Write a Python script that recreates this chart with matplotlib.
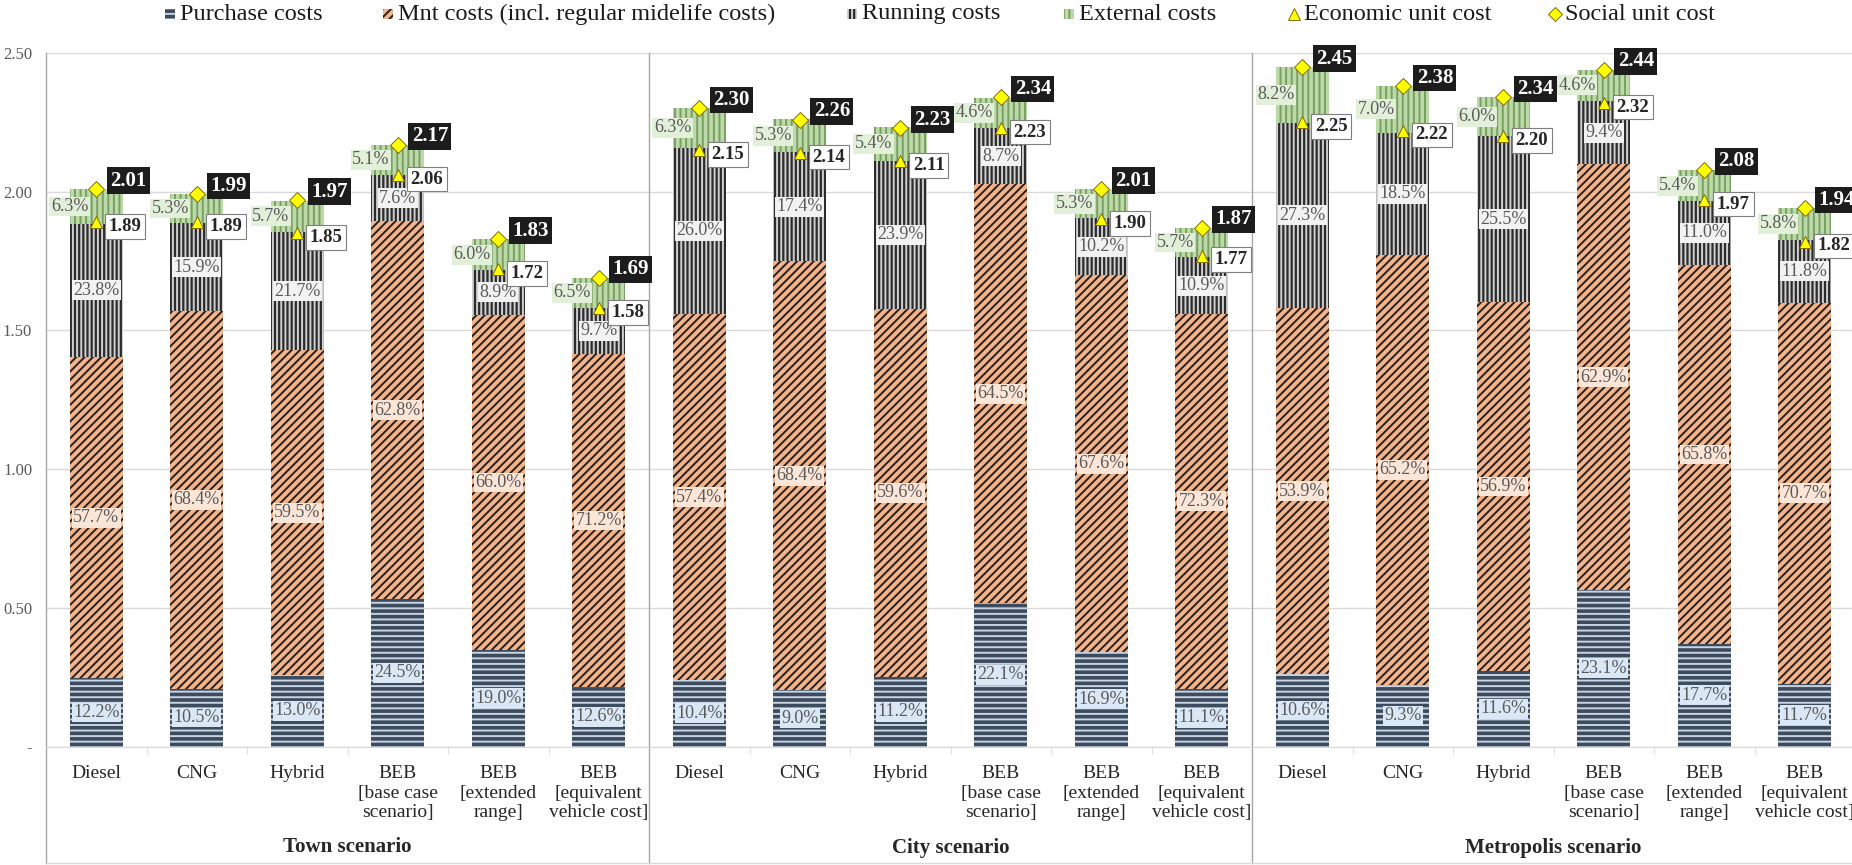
import matplotlib.pyplot as plt
import numpy as np
from matplotlib.patches import Rectangle
from matplotlib.lines import Line2D

plt.rcParams['font.family'] = ['Liberation Serif', 'DejaVu Serif']
plt.rcParams['hatch.linewidth'] = 1.4

# data
scenarios = ['Town scenario', 'City scenario', 'Metropolis scenario']
vehicles = ['Diesel', 'CNG', 'Hybrid', 'BEB\n[base case\nscenario]',
            'BEB\n[extended\nrange]', 'BEB\n[equivalent\nvehicle cost]']

social_cost = [2.01, 1.99, 1.97, 2.17, 1.83, 1.69,
               2.30, 2.26, 2.23, 2.34, 2.01, 1.87,
               2.45, 2.38, 2.34, 2.44, 2.08, 1.94]
economic_cost = [1.89, 1.89, 1.85, 2.06, 1.72, 1.58,
                 2.15, 2.14, 2.11, 2.23, 1.90, 1.77,
                 2.25, 2.22, 2.20, 2.32, 1.97, 1.82]
purchase_pct = [12.2, 10.5, 13.0, 24.5, 19.0, 12.6,
                10.4, 9.0, 11.2, 22.1, 16.9, 11.1,
                10.6, 9.3, 11.6, 23.1, 17.7, 11.7]
mnt_pct = [57.7, 68.4, 59.5, 62.8, 66.0, 71.2,
           57.4, 68.4, 59.6, 64.5, 67.6, 72.3,
           53.9, 65.2, 56.9, 62.9, 65.8, 70.7]
running_pct = [23.8, 15.9, 21.7, 7.6, 8.9, 9.7,
               26.0, 17.4, 23.9, 8.7, 10.2, 10.9,
               27.3, 18.5, 25.5, 9.4, 11.0, 11.8]
external_pct = [6.3, 5.3, 5.7, 5.1, 6.0, 6.5,
                6.3, 5.3, 5.4, 4.6, 5.3, 5.7,
                8.2, 7.0, 6.0, 4.6, 5.4, 5.8]

# name, values, face, hatch colour, hatch, label box colour
series = [
    ('Purchase costs', purchase_pct, '#3d4b5e', '#c9d4e2', '---', '#dae8f5'),
    ('Mnt costs (incl. regular midelife costs)', mnt_pct, '#f2b48c', '#2a1f1a', '////', '#fbe5d6'),
    ('Running costs', running_pct, '#2b2b2b', '#d0d0d0', '||||', '#f2f2f2'),
    ('External costs', external_pct, '#bcd9a8', '#7a9f65', '|||', '#e2f0d9'),
]

W, H = 1852, 865
fig = plt.figure(figsize=(W / 100, H / 100), dpi=100)
ax = fig.add_axes([46 / W, 118.5 / H, 1809 / W, 693.5 / H])

x = np.arange(len(social_cost))
social = np.array(social_cost)
bw = 0.53
bottom = np.zeros(len(x))
for name, pct, fc, hc, hatch, boxc in series:
    h = np.array(pct) / 100 * social
    ax.bar(x, h, bw, bottom=bottom, color=fc, edgecolor=hc, hatch=hatch,
           linewidth=0, zorder=2)
    for i in x:
        xt = i - bw / 2 if name == 'External costs' else i
        ax.text(xt, bottom[i] + h[i] / 2, f'{pct[i]:.1f}%', ha='center', va='center',
                fontsize=13, color='#595959', zorder=4,
                bbox=dict(boxstyle='square,pad=0.08', fc=boxc, ec='none'))
    bottom += h

ax.plot(x, economic_cost, '^', ms=9, mfc='#ffff00', mec='#7f6a00', mew=0.7,
        ls='none', zorder=5)
ax.plot(x, social_cost, 'D', ms=8, mfc='#ffff00', mec='#7f6a00', mew=0.7,
        ls='none', zorder=5)

for i in x:
    ax.annotate(f'{social_cost[i]:.2f}', (i, social_cost[i]), xytext=(10, 6),
                textcoords='offset points', ha='left', va='center', fontsize=15,
                fontweight='bold', color='white', zorder=6,
                bbox=dict(boxstyle='square,pad=0.16', fc='#1c1c1c', ec='none'))
    ax.annotate(f'{economic_cost[i]:.2f}', (i, economic_cost[i]), xytext=(9, -3),
                textcoords='offset points', ha='left', va='center', fontsize=13.5,
                fontweight='bold', color='#262626', zorder=6,
                bbox=dict(boxstyle='square,pad=0.2', fc='white', ec='#7f7f7f', lw=0.8))

ax.set_xlim(-0.5, 17.5)
ax.set_ylim(0, 2.5)
ax.set_yticks(np.arange(0, 2.51, 0.5))
ax.set_yticklabels(['-', '0.50', '1.00', '1.50', '2.00', '2.50'])
ax.tick_params(axis='y', length=0, pad=10, labelsize=12, labelcolor='#595959')
ax.grid(axis='y', color='#d9d9d9', lw=1, zorder=0)
ax.set_axisbelow(True)
for s in ['top', 'right', 'left']:
    ax.spines[s].set_visible(False)
ax.spines['bottom'].set_color('#d9d9d9')

ax.set_xticks([])
minor = [k for k in np.arange(0.5, 17, 1.0) if k not in (5.5, 11.5)]
ax.set_xticks(minor, minor=True)
ax.tick_params(axis='x', which='minor', length=5, color='#d9d9d9', labelbottom=False)

trans = ax.get_xaxis_transform()
low = -116.5 / 693.5
for xd in [-0.5, 5.5, 11.5]:
    ax.plot([xd, xd], [1, low], transform=trans, color='#a6a6a6', lw=1, clip_on=False, zorder=1)
ax.plot([-0.5, 17.5], [low, low], transform=trans, color='#d9d9d9', lw=1, clip_on=False)

for i in x:
    ax.text(i, -19 / 693.5, vehicles[i % 6], transform=trans, ha='center', va='top',
            fontsize=14, color='#262626', linespacing=1.18)
for g, name in enumerate(scenarios):
    ax.text(g * 6 + 2.5, -101 / 693.5, name, transform=trans, ha='center', va='center',
            fontsize=15, fontweight='bold', color='#262626')

# legend drawn by hand at the top
leg_x = [170, 388, 852, 1069, 1294, 1555]
ly = H - 14
for k, lx in enumerate(leg_x):
    if k < 4:
        name, pct, fc, hc, hatch, boxc = series[k]
        fig.add_artist(Rectangle(((lx - 5) / W, (ly - 5) / H), 10 / W, 10 / H,
                                 transform=fig.transFigure, fc=fc, ec=hc, hatch=hatch, lw=0))
    else:
        name = 'Economic unit cost' if k == 4 else 'Social unit cost'
        fig.add_artist(Line2D([lx / W], [ly / H], transform=fig.transFigure,
                              marker='^' if k == 4 else 'D', ms=8 if k == 4 else 7,
                              mfc='#ffff00', mec='#7f6a00', mew=0.7, ls='none'))
    fig.text((lx + 10) / W, ly / H, name, ha='left', va='center', fontsize=17.5, color='#1a1a1a')

fig.savefig('out.png', dpi=100)
